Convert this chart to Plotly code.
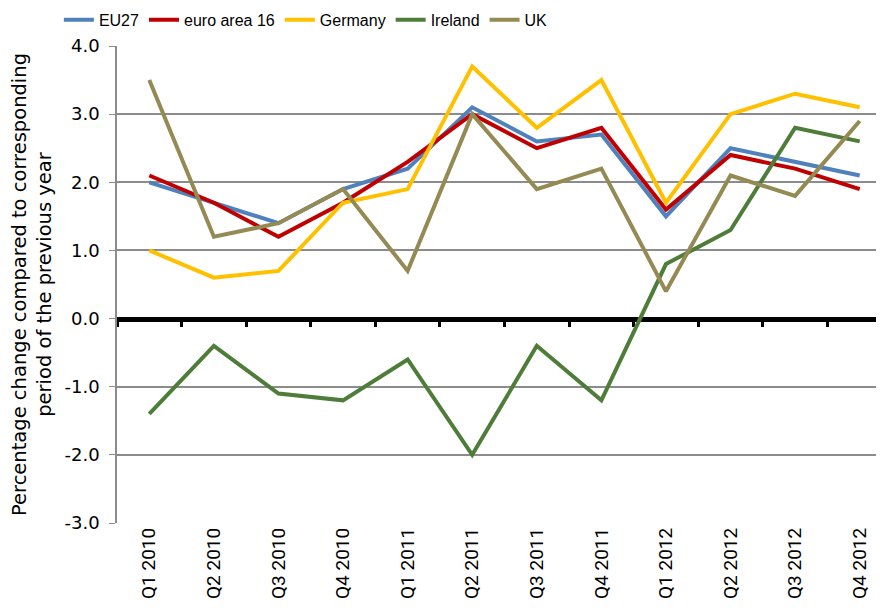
import plotly.graph_objects as go

quarters = ["Q1 2010", "Q2 2010", "Q3 2010", "Q4 2010", "Q1 2011", "Q2 2011",
            "Q3 2011", "Q4 2011", "Q1 2012", "Q2 2012", "Q3 2012", "Q4 2012"]
eu27 = [2.0, 1.7, 1.4, 1.9, 2.2, 3.1, 2.6, 2.7, 1.5, 2.5, 2.3, 2.1]
euro_area_16 = [2.1, 1.7, 1.2, 1.7, 2.3, 3.0, 2.5, 2.8, 1.6, 2.4, 2.2, 1.9]
germany = [1.0, 0.6, 0.7, 1.7, 1.9, 3.7, 2.8, 3.5, 1.7, 3.0, 3.3, 3.1]
ireland = [-1.4, -0.4, -1.1, -1.2, -0.6, -2.0, -0.4, -1.2, 0.8, 1.3, 2.8, 2.6]
uk = [3.5, 1.2, 1.4, 1.9, 0.7, 3.0, 1.9, 2.2, 0.4, 2.1, 1.8, 2.9]

y_ticks = [-3, -2, -1, 0, 1, 2, 3, 4]
y_tick_text = ["-3.0", "-2.0", "-1.0", "0.0", "1.0", "2.0", "3.0", "4.0"]

series = [
    ("EU27", eu27, "#4F81BD"),
    ("euro area 16", euro_area_16, "#C00000"),
    ("Germany", germany, "#FFC000"),
    ("Ireland", ireland, "#4E7D3A"),
    ("UK", uk, "#948A54"),
]

fig = go.Figure()
for name, vals, col in series:
    fig.add_trace(go.Scatter(x=quarters, y=vals, name=name, mode="lines",
                             line=dict(color=col, width=4)))

x_range = [-0.5, 11.5]
boundaries = [i + 0.5 for i in range(-1, 11)]

fig.update_layout(
    width=884, height=614,
    margin=dict(l=109, r=0, t=38, b=99, autoexpand=False),
    paper_bgcolor="white", plot_bgcolor="white",
    font=dict(family="DejaVu Sans", color="black"),
    legend=dict(orientation="h", x=-0.075, xanchor="left", y=1.055, yanchor="middle",
                font=dict(family="Liberation Sans Narrow, Liberation Sans", size=16, color="black"),
                itemwidth=30, tracegroupgap=0),
    xaxis=dict(type="category", range=x_range, showgrid=False, zeroline=False,
               showline=False, ticks="", tickangle=-90,
               tickfont=dict(family="Roboto, Liberation Sans", size=19, color="black")),
    xaxis2=dict(overlaying="x", anchor="free", position=3/7, range=x_range,
                showgrid=False, zeroline=False, showline=True, linecolor="black",
                linewidth=5, ticks="outside", ticklen=5, tickwidth=3, tickcolor="black",
                tickmode="array", tickvals=boundaries, showticklabels=False,
                layer="below traces"),
    yaxis=dict(range=[-3, 4], tickmode="array", tickvals=y_ticks, ticktext=y_tick_text,
               showgrid=True, gridcolor="#8C8C8C", gridwidth=1.5, zeroline=False,
               showline=True, linecolor="#8C8C8C", linewidth=1.5,
               ticks="outside", ticklen=6, tickcolor="#8C8C8C", ticklabelstandoff=6,
               tickfont=dict(family="DejaVu Sans", size=18, color="black"),
               title=dict(text="Percentage change compared to corresponding<br>period of the previous year",
                          font=dict(family="DejaVu Sans", size=19.5, color="black"), standoff=15)),
)

# invisible helper trace so the zero-line axis is drawn
fig.add_trace(go.Scatter(x=[-0.5], y=[0], xaxis="x2", mode="markers",
                         marker=dict(opacity=0), showlegend=False, hoverinfo="skip"))

fig.write_html("out.html")
